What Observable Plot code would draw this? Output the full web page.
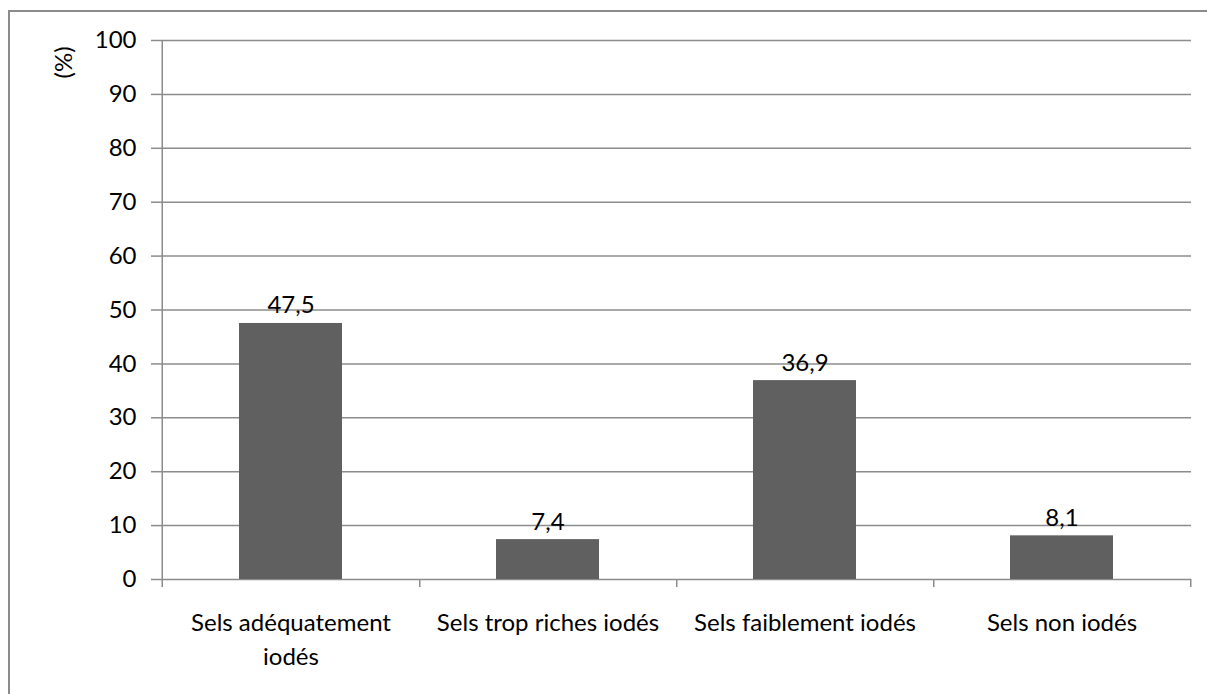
<!DOCTYPE html>
<html>
<head>
<meta charset="utf-8">
<script src="https://cdn.jsdelivr.net/npm/d3@7"></script>
<script src="https://cdn.jsdelivr.net/npm/@observablehq/plot@0.6"></script>
<style>
  html, body { margin: 0; padding: 0; background: #fff; overflow: hidden; width: 1207px; height: 694px; }
  #frame { position: absolute; left: 8px; top: 10px; width: 1210px; height: 700px; border-left: 2px solid #8c8c8c; border-top: 2px solid #8c8c8c; box-sizing: border-box; }
  #chart { position: absolute; left: 0; top: 0; }
</style>
</head>
<body>
<div id="frame"></div>
<div id="chart"></div>
<script>
const categories = ["Sels adéquatement\niodés", "Sels trop riches iodés", "Sels faiblement iodés", "Sels non iodés"];
const values = [47.5, 7.4, 36.9, 8.1];
const yTicks = [0, 10, 20, 30, 40, 50, 60, 70, 80, 90, 100];
const yLabel = "(%)";

const data = categories.map((c, i) => ({category: c, value: values[i]}));
const fmt = v => v.toFixed(1).replace(".", ",");

const W = 1207, H = 694;
const mLeft = 161, mRight = 16, mTop = 40, mBottom = 115;
const step = (W - mLeft - mRight) / (categories.length - 0.6 + 0.6);
const font = "Lato, 'Open Sans', sans-serif";

const chart = Plot.plot({
  width: W,
  height: H,
  marginLeft: mLeft,
  marginRight: mRight,
  marginTop: mTop,
  marginBottom: mBottom,
  style: {fontFamily: font, fontSize: "24px", color: "#000", background: "transparent", overflow: "visible"},
  x: {domain: categories, paddingInner: 0.6, paddingOuter: 0.3, label: null},
  y: {domain: [0, 100], label: null},
  marks: [
    Plot.ruleY(yTicks, {stroke: "#8c8c8c", strokeWidth: 1.5}),
    Plot.axisY({ticks: yTicks, tickSize: 10, tickPadding: 15, stroke: "#8c8c8c", strokeWidth: 1.5, fill: "#000", fontSize: 24, label: null, tickFormat: d => String(d)}),
    Plot.ruleX([categories[0]], {x: d => d, dx: -step / 2, y1: -1.5, y2: 100, stroke: "#8c8c8c", strokeWidth: 1.5}),
    Plot.ruleX(categories, {x: d => d, dx: step / 2, y1: -1.5, y2: 0, stroke: "#8c8c8c", strokeWidth: 1.5}),
    Plot.barY(data, {x: "category", y: "value", fill: "#606060"}),
    Plot.text(data, {x: "category", y: "value", text: d => fmt(d.value), lineAnchor: "bottom", dy: -10, fontSize: 24, fill: "#000"}),
    Plot.axisX({tickSize: 0, tickPadding: 28, fontSize: 24, lineHeight: 1.4, fill: "#000", label: null}),
    Plot.text([yLabel], {frameAnchor: "top-left", text: d => d, rotate: -90, dx: -107, dy: 38, fontSize: 24, fill: "#000"})
  ]
});
document.getElementById("chart").appendChild(chart);
</script>
</body>
</html>
